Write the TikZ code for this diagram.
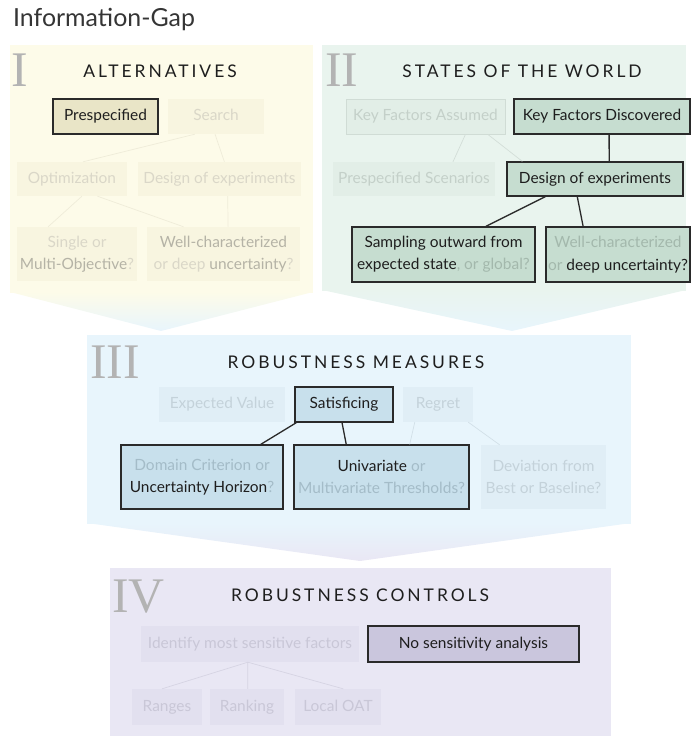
\documentclass[tikz,border=0pt]{standalone}
\usepackage{fontspec}
\usepackage{xcolor}
\usepackage{tikz}
\usetikzlibrary{
  positioning,
  calc,
  backgrounds
}
\setmainfont{Lato}
\newfontfamily\headfont[LetterSpace=17]{Lato}
\newfontfamily\romfont{Liberation Serif}
\newcommand{\igtext}{\fontsize{15.5}{22.5}\selectfont}
\newcommand{\ighead}{\fontsize{17.5}{19}\headfont}
\definecolor{igInk}{HTML}{1E1E1E}
\definecolor{igLine}{HTML}{2A2A2A}
\definecolor{igRoman}{HTML}{B3B3B3}
\definecolor{igAltPanel}{HTML}{FDFBE9}
\definecolor{igAltOn}{HTML}{E9E5C7}
\definecolor{igAltOffFill}{HTML}{F8F5E0}
\definecolor{igAltOff}{HTML}{DAD7C8}
\definecolor{igAltMid}{HTML}{B5B3A6}
\definecolor{igSowPanel}{HTML}{E9F4EE}
\definecolor{igSowOn}{HTML}{C6DDD0}
\definecolor{igSowOffFill}{HTML}{E2EEE7}
\definecolor{igSowOff}{HTML}{C4D0C9}
\definecolor{igSowDim}{HTML}{A3B8AC}
\definecolor{igRmPanel}{HTML}{E8F5FC}
\definecolor{igRmOn}{HTML}{C8E0EC}
\definecolor{igRmOffFill}{HTML}{E0EEF6}
\definecolor{igRmOff}{HTML}{C4D2DA}
\definecolor{igRmDim}{HTML}{A4BCC8}
\definecolor{igRcPanel}{HTML}{E9E7F4}
\definecolor{igRcOn}{HTML}{CAC6DD}
\definecolor{igRcOffFill}{HTML}{E2E0EF}
\definecolor{igRcOff}{HTML}{C9C7D7}
\tikzset{
  igbox/.style={
    minimum height=35bp, inner sep=0pt, font=\igtext, align=center, text=igInk
  },
  oneline/.style={text height=11bp, text depth=3bp},
  onbox/.style={igbox, draw=igLine, line width=1.3bp},
  altoff/.style={igbox, fill=igAltOffFill, text=igAltOff},
  alton/.style={onbox, fill=igAltOn},
  sowoff/.style={igbox, fill=igSowOffFill, text=igSowOff},
  sowon/.style={onbox, fill=igSowOn},
  rmoff/.style={igbox, fill=igRmOffFill, text=igRmOff},
  rmon/.style={onbox, fill=igRmOn},
  rcoff/.style={igbox, fill=igRcOffFill, text=igRcOff},
  rcon/.style={onbox, fill=igRcOn},
  link/.style={line width=1.3bp, igLine},
  faintlink/.style={line width=0.7bp},
  numeral/.style={font=\romfont\fontsize{50}{50}\selectfont, text=igRoman, anchor=base west, inner sep=0pt},
  heading/.style={font=\ighead, text=igInk, inner sep=0pt}
}

\begin{document}
\begin{tikzpicture}[x=1bp, y=-1bp]
  \useasboundingbox (0,0) rectangle (692,736);
  % panels
  \fill[igAltPanel] (10,45) rectangle (313,293);
  \shade[top color=igAltPanel, bottom color=igRmPanel] (10,292) -- (313,292) -- (161,331) -- cycle;
  \fill[igSowPanel] (322,45) rectangle (686,291);
  \shade[top color=igSowPanel, bottom color=igRmPanel] (322,290) -- (686,290) -- (512,331) -- cycle;
  \fill[igRmPanel] (87,335) rectangle (631,524);
  \shade[top color=igRmPanel, bottom color=igRcPanel] (87,523) -- (631,523) -- (360,561) -- cycle;
  \fill[igRcPanel] (110,568) rectangle (611,736);

  \node[anchor=base west, inner sep=0pt, text=igInk!90, font=\fontsize{25}{28}\selectfont] (title) at (13,27) {Information-Gap};

  % I: alternatives
  \node[numeral] (romI) at (11,86) {I};
  \node[heading] (alt) at (160,71) {ALTERNATIVES};
  \node[alton, oneline, minimum width=105bp] (pre) at (105.5,116.5) {Prespecified};
  \node[altoff, oneline, minimum width=96bp] (srch) at (216,116.5) {Search};
  \node[altoff, oneline, minimum width=110bp, minimum height=34bp] (opt) at (72,179) {Optimization};
  \node[altoff, oneline, minimum width=163bp, minimum height=34bp] (doeA) at (219.5,179) {Design of experiments};
  \node[altoff, minimum width=120bp, minimum height=54bp] (objs) at (77,254) {Single or\\\textcolor{igAltMid}{Multi-Objective}?};
  \node[altoff, minimum width=153bp, minimum height=54bp] (uncA) at (223.5,254) {\textcolor{igAltMid}{Well-characterized}\\or deep \textcolor{igAltMid}{uncertainty}?};
  \draw[faintlink, igAltOffFill!70!igAltOff] ($(srch.south west)!0.28!(srch.south east)$) -- ($(opt.north west)!0.6!(opt.north east)$);
  \draw[faintlink, igAltOffFill!70!igAltOff] ($(srch.south west)!0.49!(srch.south east)$) -- ($(doeA.north west)!0.53!(doeA.north east)$);
  \draw[faintlink, igAltOffFill!70!igAltOff] ($(opt.south west)!0.59!(opt.south east)$) -- ($(objs.north west)!0.26!(objs.north east)$);
  \draw[faintlink, igAltOffFill!70!igAltOff] ($(opt.south west)!0.73!(opt.south east)$) -- ($(uncA.north west)!0.24!(uncA.north east)$);
  \draw[faintlink, igAltOffFill!70!igAltOff] ($(doeA.south west)!0.55!(doeA.south east)$) -- ($(uncA.north west)!0.53!(uncA.north east)$);

  % II: states of the world
  \node[numeral] (romII) at (325,86) {II};
  \node[heading] (sow) at (522,71) {STATES OF THE WORLD};
  \node[sowoff, oneline, draw=igSowOff!60!igSowOffFill, line width=0.8bp, minimum width=159bp] (kfa) at (425.5,116.5) {Key Factors Assumed};
  \node[sowon, oneline, minimum width=176bp] (kfd) at (602,116.5) {Key Factors Discovered};
  \node[sowoff, oneline, minimum width=162bp, minimum height=34bp] (psc) at (414,179) {Prespecified Scenarios};
  \node[sowon, oneline, minimum width=176bp, minimum height=34bp] (doeB) at (595,179) {Design of experiments};
  \node[sowon, minimum width=183bp, minimum height=55bp] (samp) at (443.5,254.5) {Sampling outward from\\expected state\textcolor{igSowDim}{, or global?}};
  \node[sowon, minimum width=144bp, minimum height=55bp] (uncB) at (618,254.5) {\textcolor{igSowDim}{Well-characterized}\\\textcolor{igSowDim}{or} deep uncertainty?};
  \draw[faintlink, igSowOff!60!igSowPanel] ($(kfa.south west)!0.75!(kfa.south east)$) -- ($(psc.north west)!0.74!(psc.north east)$);
  \draw[faintlink, igSowOff!60!igSowPanel] ($(kfa.south west)!0.89!(kfa.south east)$) -- ($(doeB.north west)!0.09!(doeB.north east)$);
  \draw[link] ($(kfd.south west)!0.54!(kfd.south east)$) -- ($(doeB.north west)!0.58!(doeB.north east)$);
  \draw[link] ($(doeB.south west)!0.22!(doeB.south east)$) -- ($(samp.north west)!0.73!(samp.north east)$);
  \draw[link] ($(doeB.south west)!0.40!(doeB.south east)$) -- ($(uncB.north west)!0.26!(uncB.north east)$);

  % III: robustness measures
  \node[numeral] (romIII) at (90,378) {III};
  \node[heading] (rm) at (356,362) {ROBUSTNESS MEASURES};
  \node[rmoff, oneline, minimum width=126bp] (expv) at (222,404.5) {Expected Value};
  \node[rmon, oneline, minimum width=98bp] (sat) at (344,404.5) {Satisficing};
  \node[rmoff, oneline, minimum width=70bp] (regr) at (438,404.5) {Regret};
  \node[rmon, minimum width=162bp, minimum height=64bp] (dom) at (202,477) {\textcolor{igRmDim}{Domain Criterion or}\\Uncertainty Horizon\textcolor{igRmDim}{?}};
  \node[rmon, minimum width=175bp, minimum height=64bp] (univ) at (381.5,477) {Univariate \textcolor{igRmDim}{or}\\\textcolor{igRmDim}{Multivariate Thresholds?}};
  \node[rmoff, minimum width=125bp, minimum height=64bp] (devn) at (543.5,477) {Deviation from\\Best or Baseline?};
  \draw[faintlink, igRmOff!60!igRmPanel] ($(regr.south west)!0.17!(regr.south east)$) -- ($(univ.north west)!0.66!(univ.north east)$);
  \draw[faintlink, igRmOff!60!igRmPanel] ($(regr.south west)!0.93!(regr.south east)$) -- ($(devn.north west)!0.15!(devn.north east)$);
  \draw[link] ($(sat.south west)!0.02!(sat.south east)$) -- ($(dom.north west)!0.86!(dom.north east)$);
  \draw[link] ($(sat.south west)!0.48!(sat.south east)$) -- ($(univ.north west)!0.30!(univ.north east)$);

  % IV: robustness controls
  \node[numeral] (romIV) at (112,612) {IV};
  \node[heading] (rc) at (360,595) {ROBUSTNESS CONTROLS};
  \node[rcoff, oneline, minimum width=218bp, minimum height=36bp] (ident) at (250,644) {Identify most sensitive factors};
  \node[rcon, oneline, minimum width=211bp, minimum height=36bp] (nosa) at (473.5,644) {No sensitivity analysis};
  \node[rcoff, oneline, minimum width=70bp, minimum height=36bp] (rang) at (167,707) {Ranges};
  \node[rcoff, oneline, minimum width=74bp, minimum height=36bp] (rank) at (247,707) {Ranking};
  \node[rcoff, oneline, minimum width=86bp, minimum height=36bp] (loat) at (338,707) {Local OAT};
  \draw[faintlink, igRcOff!60!igRcPanel] ($(ident.south west)!0.49!(ident.south east)$) -- ($(rang.north west)!0.43!(rang.north east)$);
  \draw[faintlink, igRcOff!60!igRcPanel] ($(ident.south west)!0.49!(ident.south east)$) -- ($(rank.north west)!0.51!(rank.north east)$);
  \draw[faintlink, igRcOff!60!igRcPanel] ($(ident.south west)!0.49!(ident.south east)$) -- ($(loat.north west)!0.56!(loat.north east)$);
\end{tikzpicture}
\end{document}
